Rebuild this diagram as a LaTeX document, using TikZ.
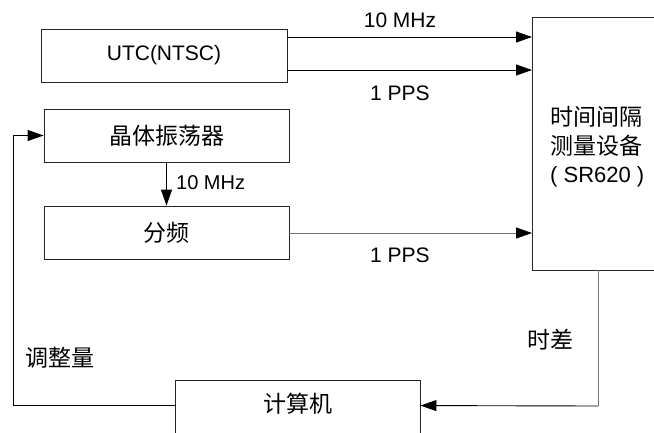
\documentclass[tikz,border=0pt]{standalone}
\usepackage{fontspec}
\setmainfont{Liberation Sans}
\newfontfamily\cjk{Noto Sans CJK SC}
\usetikzlibrary{arrows.meta,calc}
\begin{document}
\begin{tikzpicture}[x=1pt,y=-1pt,
  box/.style={draw=black!85,line width=0.9pt,rectangle,inner sep=0pt},
  lat/.style={font=\fontsize{21}{25}\selectfont,inner sep=0pt},
  zh/.style={font=\fontsize{23}{28.5}\selectfont\cjk,inner sep=0pt},
  arr/.style={line width=0.9pt,-{Triangle[length=16pt,width=11pt,color=black]}},
  glin/.style={draw=black!55}]
\useasboundingbox (0,0) rectangle (654,432);
\clip (0,0) rectangle (654,432);
% boxes
\node[box,minimum width=246,minimum height=53,lat] (utc) at (164,55.5) {UTC(NTSC)};
\node[box,minimum width=245,minimum height=53,zh] (osc) at (166.5,135.5) {晶体振荡器};
\node[box,minimum width=245,minimum height=53,zh] (div) at (166.5,232.5) {分频};
\node[box,minimum width=160,minimum height=253] (tic) at (612,143.5) {};
\node[box,minimum width=245,minimum height=60,label={[zh,yshift=6pt]center:计算机}] (pc) at (297.5,410) {};
% texts in measuring box
\node[zh,align=left,anchor=west] (tictext) at (550,147) {时间间隔\\测量设备\\{\fontsize{22}{28.5}\selectfont\rmfamily( SR620 )}};
% coordinates
\coordinate (a1) at (287,37);
\coordinate (b1) at (532,37);
\coordinate (a2) at (287,70);
\coordinate (b2) at (532,70);
\coordinate (a3) at (289,233);
\coordinate (b3) at (532,233);
\coordinate (t1) at (598,270);
\coordinate (t2) at (598,406);
\coordinate (pcE) at ($(pc.north east)+(0,26)$);
\coordinate (pcW) at ($(pc.north west)+(0,26)$);
\coordinate (lc) at (13,135.5);
% connectors
\draw[arr] (a1) -- (b1);
\draw[arr] (a2) -- (b2);
\draw[arr,glin] (a3) -- (b3);
\draw[arr] (osc.south) -- (div.north);
\draw[line width=0.9pt,glin] (t1) -- (t2);
\draw[arr] (t2) -- (pcE);
\draw[arr] (pcW) -| (lc) -- (osc.west);
% labels
\node[lat] (l1) at (400,20) {10 MHz};
\node[lat] (l2) at (400,93) {1 PPS};
\node[lat] (l3) at (400,255) {1 PPS};
\node[lat,anchor=west,font=\fontsize{20}{24}\selectfont] (l4) at (176,183) {10 MHz};
\node[zh] (l5) at (550,340) {时差};
\node[zh] (l6) at (60,358) {调整量};
\end{tikzpicture}
\end{document}
